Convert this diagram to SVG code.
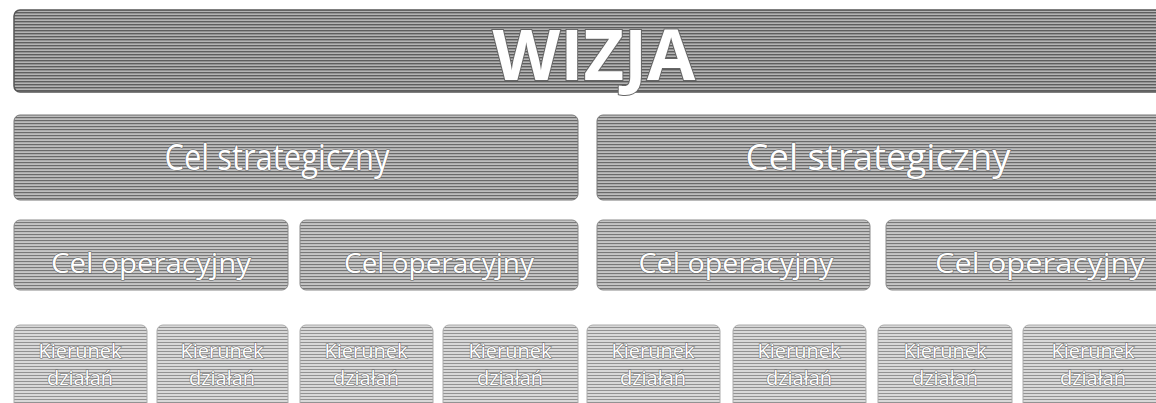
<svg xmlns="http://www.w3.org/2000/svg" width="1156" height="403" viewBox="0 0 1156 403">
<defs>
<pattern id="p1" width="4" height="3" patternUnits="userSpaceOnUse"><rect width="4" height="3" fill="#b4b4b4"/><rect width="4" height="1.4" fill="#5e5e5e"/></pattern>
<pattern id="p2" width="4" height="3" patternUnits="userSpaceOnUse"><rect width="4" height="3" fill="#bdbdbd"/><rect width="4" height="1.2" fill="#6a6a6a"/></pattern>
<pattern id="p3" width="4" height="3" patternUnits="userSpaceOnUse"><rect width="4" height="3" fill="#c6c6c6"/><rect width="4" height="1.1" fill="#787878"/></pattern>
<pattern id="p4" width="4" height="3" patternUnits="userSpaceOnUse"><rect width="4" height="3" fill="#d8d8d8"/><rect width="4" height="0.9" fill="#8a8a8a"/></pattern>
</defs>
<style>
.v{fill:url(#p1);stroke:#555;stroke-width:1.5}
.s{fill:url(#p2);stroke:#777;stroke-width:1}
.o{fill:url(#p3);stroke:#888;stroke-width:1}
.k{fill:url(#p4);stroke:#aaa;stroke-width:1}
text{font-family:"Open Sans","Liberation Sans",sans-serif;fill:#fff;stroke:#666;stroke-width:1;paint-order:stroke;text-anchor:middle}
.tv{font-size:70px;font-weight:bold;stroke-width:2}
.ts{font-size:36px}
.to{font-size:27px}
.tk{font-size:20px}
</style>
<g id="wizja"><rect class="v" x="14" y="10" width="1150" height="82" rx="6"/><text class="tv" x="594" y="80">WIZJA</text></g>
<g id="cs1"><rect class="s" x="14" y="115" width="564" height="85" rx="6"/><text class="ts" x="277" y="170" textLength="225" lengthAdjust="spacingAndGlyphs">Cel strategiczny</text></g>
<g id="cs2"><rect class="s" x="597" y="115" width="567" height="85" rx="6"/><text class="ts" x="878" y="170" textLength="265" lengthAdjust="spacingAndGlyphs">Cel strategiczny</text></g>
<g id="co1"><rect class="o" x="14" y="220" width="274" height="70" rx="6"/><text class="to" x="151" y="273" textLength="200" lengthAdjust="spacingAndGlyphs">Cel operacyjny</text></g>
<g id="co2"><rect class="o" x="300" y="220" width="278" height="70" rx="6"/><text class="to" x="439" y="273" textLength="190" lengthAdjust="spacingAndGlyphs">Cel operacyjny</text></g>
<g id="co3"><rect class="o" x="597" y="220" width="273" height="70" rx="6"/><text class="to" x="736" y="273" textLength="195" lengthAdjust="spacingAndGlyphs">Cel operacyjny</text></g>
<g id="co4"><rect class="o" x="886" y="220" width="278" height="70" rx="6"/><text class="to" x="1040" y="273" textLength="210" lengthAdjust="spacingAndGlyphs">Cel operacyjny</text></g>
<g id="k1"><rect class="k" x="14" y="325" width="133" height="90" rx="6"/><text class="tk" x="80" y="358">Kierunek</text><text class="tk" x="80" y="385">działań</text></g>
<g id="k2"><rect class="k" x="157" y="325" width="131" height="90" rx="6"/><text class="tk" x="222" y="358">Kierunek</text><text class="tk" x="222" y="385">działań</text></g>
<g id="k3"><rect class="k" x="300" y="325" width="133" height="90" rx="6"/><text class="tk" x="366" y="358">Kierunek</text><text class="tk" x="366" y="385">działań</text></g>
<g id="k4"><rect class="k" x="443" y="325" width="135" height="90" rx="6"/><text class="tk" x="510" y="358">Kierunek</text><text class="tk" x="510" y="385">działań</text></g>
<g id="k5"><rect class="k" x="587" y="325" width="133" height="90" rx="6"/><text class="tk" x="653" y="358">Kierunek</text><text class="tk" x="653" y="385">działań</text></g>
<g id="k6"><rect class="k" x="733" y="325" width="133" height="90" rx="6"/><text class="tk" x="799" y="358">Kierunek</text><text class="tk" x="799" y="385">działań</text></g>
<g id="k7"><rect class="k" x="878" y="325" width="134" height="90" rx="6"/><text class="tk" x="945" y="358">Kierunek</text><text class="tk" x="945" y="385">działań</text></g>
<g id="k8"><rect class="k" x="1023" y="325" width="140" height="90" rx="6"/><text class="tk" x="1093" y="358">Kierunek</text><text class="tk" x="1093" y="385">działań</text></g>
<g id="connectors"></g>
</svg>
